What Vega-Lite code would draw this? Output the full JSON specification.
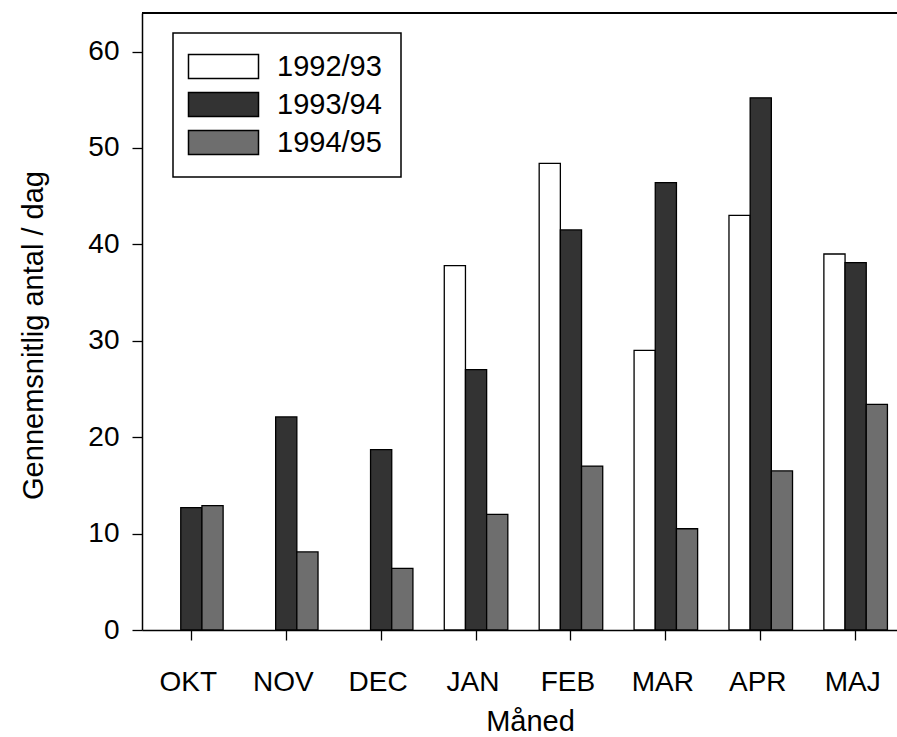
{
  "$schema": "https://vega.github.io/schema/vega-lite/v6.json",
  "autosize": {"type": "none"},
  "padding": {"left": 142, "top": 13, "right": 0, "bottom": 107},
  "width": 755,
  "height": 617,
  "background": "white",
  "config": {"view": {"stroke": null}, "font": "Liberation Sans"},
  "data": {
    "values": [
      {"month": "OKT", "season": "1993/94", "value": 12.7},
      {"month": "OKT", "season": "1994/95", "value": 12.9},
      {"month": "NOV", "season": "1993/94", "value": 22.1},
      {"month": "NOV", "season": "1994/95", "value": 8.1},
      {"month": "DEC", "season": "1993/94", "value": 18.7},
      {"month": "DEC", "season": "1994/95", "value": 6.4},
      {"month": "JAN", "season": "1992/93", "value": 37.8},
      {"month": "JAN", "season": "1993/94", "value": 27.0},
      {"month": "JAN", "season": "1994/95", "value": 12.0},
      {"month": "FEB", "season": "1992/93", "value": 48.4},
      {"month": "FEB", "season": "1993/94", "value": 41.5},
      {"month": "FEB", "season": "1994/95", "value": 17.0},
      {"month": "MAR", "season": "1992/93", "value": 29.0},
      {"month": "MAR", "season": "1993/94", "value": 46.4},
      {"month": "MAR", "season": "1994/95", "value": 10.5},
      {"month": "APR", "season": "1992/93", "value": 43.0},
      {"month": "APR", "season": "1993/94", "value": 55.2},
      {"month": "APR", "season": "1994/95", "value": 16.5},
      {"month": "MAJ", "season": "1992/93", "value": 39.0},
      {"month": "MAJ", "season": "1993/94", "value": 38.1},
      {"month": "MAJ", "season": "1994/95", "value": 23.4}
    ]
  },
  "layer": [
    {
      "mark": {"type": "bar", "stroke": "black", "strokeWidth": 1.3},
      "encoding": {
        "x": {
          "field": "month",
          "type": "nominal",
          "sort": ["OKT", "NOV", "DEC", "JAN", "FEB", "MAR", "APR", "MAJ"],
          "scale": {"range": [0, 763], "paddingInner": 0, "paddingOuter": 0.02},
          "axis": {
            "labelAngle": 0,
            "labelFontSize": 28,
            "labelColor": "black",
            "labelBaseline": "middle",
            "labelPadding": 42,
            "labelOffset": -3,
            "tickSize": 10,
            "tickColor": "black",
            "tickWidth": 1.3,
            "domainColor": "black",
            "domainWidth": 1.5,
            "title": "Måned",
            "titleFontSize": 29,
            "titleFontWeight": "normal",
            "titleColor": "black",
            "titleX": 388,
            "titleY": 91,
            "titleBaseline": "middle"
          }
        },
        "xOffset": {
          "field": "season",
          "sort": ["1992/93", "1993/94", "1994/95"],
          "scale": {"paddingInner": 0, "paddingOuter": 0.74}
        },
        "y": {
          "field": "value",
          "type": "quantitative",
          "scale": {"domain": [0, 64], "nice": false},
          "axis": {
            "values": [0, 10, 20, 30, 40, 50, 60],
            "grid": false,
            "labelFontSize": 28,
            "labelColor": "black",
            "labelPadding": 13,
            "tickSize": 10,
            "tickColor": "black",
            "tickWidth": 1.3,
            "domainColor": "black",
            "domainWidth": 1.5,
            "title": "Gennemsnitlig antal / dag",
            "titleFontSize": 29,
            "titleFontWeight": "normal",
            "titleColor": "black",
            "titleX": -109,
            "titleY": 322,
            "titleAngle": 270,
            "titleAlign": "center",
            "titleBaseline": "middle"
          }
        },
        "fill": {
          "field": "season",
          "type": "nominal",
          "scale": {"domain": ["1992/93", "1993/94", "1994/95"], "range": ["#ffffff", "#333333", "#6e6e6e"]},
          "legend": {
            "title": null,
            "orient": "none",
            "legendX": 31,
            "legendY": 20,
            "strokeColor": "black",
            "padding": 19,
            "symbolType": "M-2.917,-1H2.917V1H-2.917Z",
            "symbolSize": 576,
            "symbolOffset": 17,
            "symbolStrokeColor": "black",
            "symbolStrokeWidth": 1.5,
            "symbolOpacity": 1,
            "labelFontSize": 29,
            "labelColor": "black",
            "labelOffset": 39,
            "rowPadding": 7,
            "encode": {"legend": {"update": {"strokeWidth": {"value": 1.5}}}}
          }
        }
      }
    },
    {
      "mark": {"type": "rule", "stroke": "black", "strokeWidth": 1.5},
      "encoding": {"y": {"datum": 64}}
    }
  ]
}
